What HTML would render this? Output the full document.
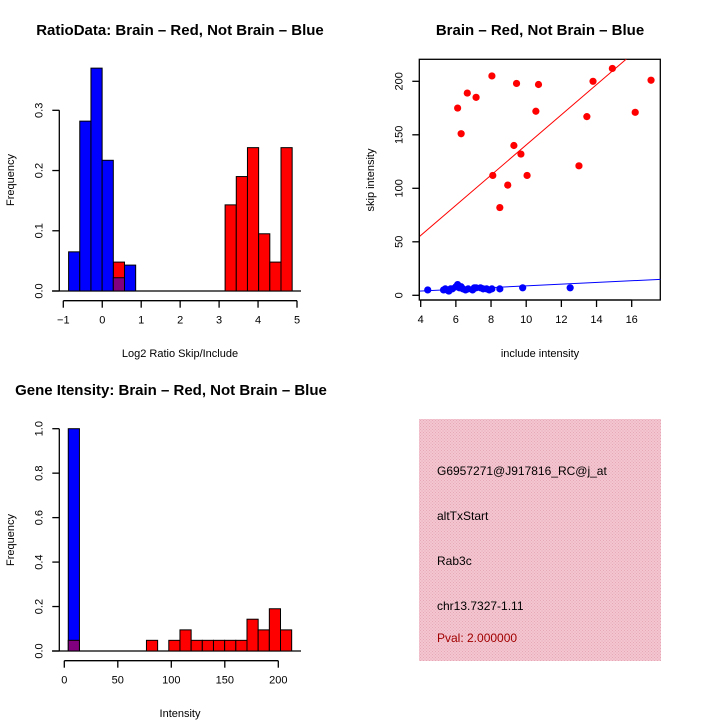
<!DOCTYPE html>
<html><head><meta charset="utf-8"><style>
html,body{margin:0;padding:0;background:#fff;}
svg{display:block;font-family:"Liberation Sans",sans-serif;}
</style></head><body>
<svg id="c" width="720" height="720" viewBox="0 0 720 720" xmlns="http://www.w3.org/2000/svg">
<g id="p1">
<text x="180" y="35" text-anchor="middle" font-size="15" font-weight="bold">RatioData: Brain – Red, Not Brain – Blue</text>
<text x="14" y="180" text-anchor="middle" font-size="11" transform="rotate(-90 14 180)">Frequency</text>
<text x="180" y="357" text-anchor="middle" font-size="11">Log2 Ratio Skip/Include</text>
</g>
<g id="p2">
<text x="540" y="35" text-anchor="middle" font-size="15" font-weight="bold">Brain – Red, Not Brain – Blue</text>
<text x="374" y="180" text-anchor="middle" font-size="11" transform="rotate(-90 374 180)">skip intensity</text>
<text x="540" y="357" text-anchor="middle" font-size="11">include intensity</text>
<rect x="419.3" y="59.3" width="241" height="240.7" fill="none" stroke="#000" stroke-width="1.3"/>
</g>
<g id="p3">
<text x="171" y="395" text-anchor="middle" font-size="15" font-weight="bold">Gene Itensity: Brain – Red, Not Brain – Blue</text>
<text x="14" y="540" text-anchor="middle" font-size="11" transform="rotate(-90 14 540)">Frequency</text>
<text x="180" y="717" text-anchor="middle" font-size="11">Intensity</text>
</g>
<defs><pattern id="hatch" width="3" height="3" patternUnits="userSpaceOnUse"><rect width="3" height="3" fill="#f4c6d0"/><rect width="1" height="1" fill="#e6a8b6"/><rect x="1.5" y="1.5" width="1" height="1" fill="#e6a8b6"/></pattern></defs>
<g>
<rect x="419" y="419" width="242" height="242" fill="url(#hatch)"/>
<g font-size="12">
<text x="437" y="475">G6957271@J917816_RC@j_at</text>
<text x="437" y="520">altTxStart</text>
<text x="437" y="565">Rab3c</text>
<text x="437" y="610">chr13.7327-1.11</text>
<text x="437" y="642" fill="#a00000">Pval: 2.000000</text>
</g>
</g>
</svg>
<script>
// ---- Plot 1 data (log2 ratio histogram) ----
const ratioBinStart = -0.864;
const ratioBinWidth = 0.287;
const ratioBlueFreq = [0.065,0.282,0.37,0.217,0.022,0.043];
const ratioRedBins = [4,14,15,16,17,18,19];
const ratioRedFreq = [0.048,0.143,0.19,0.238,0.095,0.048,0.238];
const ratioXTicks = [-1,0,1,2,3,4,5];
const ratioYTicks = [0,0.1,0.2,0.3];
const ratioYTickLabels = ["0.0","0.1","0.2","0.3"];
// ---- Plot 2 data (scatter) ----
const redInclude = [6.1,6.3,6.65,7.15,8.05,8.1,8.5,8.95,9.3,9.45,9.7,10.05,10.55,10.7,13.0,13.45,13.8,14.9,16.2,17.1];
const redSkip = [175,151,189,185,205,112,82,103,140,198,132,112,172,197,121,167,200,212,171,201];
const blueInclude = [4.4,5.3,5.4,5.5,5.6,5.7,5.8,6.0,6.1,6.2,6.3,6.4,6.55,6.7,6.95,7.05,7.15,7.4,7.55,7.75,7.9,8.05,8.5,9.8,12.5];
const blueSkip = [5,5,6,5,4,6,6,8,10,7,8,6,5,6,5,7,7,7,6,6,5,6,6,7,7];
const redFit = [-0.5,14.1];
const blueFit = [0.8,0.8];
const scatterXTicks = [4,6,8,10,12,14,16];
const scatterYTicks = [0,50,100,150,200];
// ---- Plot 3 data (intensity histogram) ----
const intBinStart = 3.7;
const intBinWidth = 10.44;
const intBlueFreq = [1.0];
const intRedBins = [0,7,9,10,11,12,13,14,15,16,17,18,19];
const intRedFreq = [0.048,0.048,0.048,0.095,0.048,0.048,0.048,0.048,0.048,0.143,0.095,0.19,0.095];
const intXTicks = [0,50,100,150,200];
const intYTicks = [0,0.2,0.4,0.6,0.8,1.0];
const intYTickLabels = ["0.0","0.2","0.4","0.6","0.8","1.0"];

const NS="http://www.w3.org/2000/svg";
function mk(parent,tag,attrs){const e=document.createElementNS(NS,tag);for(const k in attrs)e.setAttribute(k,attrs[k]);parent.appendChild(e);return e;}
function lin(d0,d1,r0,r1){return v=>r0+(v-d0)*(r1-r0)/(d1-d0);}

function drawBar(g,x0,x1,y0,y1,fill,name){
  const r=mk(g,'rect',{x:x0,y:Math.min(y0,y1),width:x1-x0,height:Math.abs(y1-y0),fill:fill,stroke:'#000','stroke-width':1});
  
  
}
function xAxis(g,ticks,labels,sx,y,name){
  const a=mk(g,'line',{x1:sx(ticks[0]),x2:sx(ticks[ticks.length-1]),y1:y,y2:y,stroke:'#000','stroke-width':1.3});
  
  
  ticks.forEach((t,i)=>{
    mk(g,'line',{x1:sx(t),x2:sx(t),y1:y,y2:y+7,stroke:'#000','stroke-width':1.3});
    const tx=mk(g,'text',{x:sx(t),y:y+23,'text-anchor':'middle','font-size':11});
    tx.textContent=labels?labels[i]:String(t).replace('-','−');
    
    
  });
}
function yAxis(g,ticks,labels,sy,x,name){
  const a=mk(g,'line',{x1:x,x2:x,y1:sy(ticks[0]),y2:sy(ticks[ticks.length-1]),stroke:'#000','stroke-width':1.3});
  
  
  ticks.forEach((t,i)=>{
    mk(g,'line',{x1:x,x2:x-7,y1:sy(t),y2:sy(t),stroke:'#000','stroke-width':1.3});
    const tx=mk(g,'text',{x:x-17,y:sy(t),'text-anchor':'middle','font-size':11,transform:`rotate(-90 ${x-17} ${sy(t)})`});
    tx.textContent=labels?labels[i]:String(t);
    
    
  });
}

// Plot 1
(function(){
  const g=document.getElementById('p1');
  const sx=lin(-1,5,63.3,297), sy=lin(0,0.3,291,110.3);
  mk(g,'line',{x1:52,x2:301,y1:291,y2:291,stroke:'#000','stroke-width':1.3});
  ratioRedBins.forEach((b,i)=>{const x0=ratioBinStart+b*ratioBinWidth;drawBar(g,sx(x0),sx(x0+ratioBinWidth),sy(0),sy(ratioRedFreq[i]),'#ff0000','ratio-red-bar');});
  ratioBlueFreq.forEach((f,i)=>{const x0=ratioBinStart+i*ratioBinWidth;const purple=ratioRedBins.includes(i);drawBar(g,sx(x0),sx(x0+ratioBinWidth),sy(0),sy(f),purple?'#800080':'#0000ff','ratio-blue-bar');});
  xAxis(g,ratioXTicks,null,sx,300.7,'ratio-x-axis');
  yAxis(g,ratioYTicks,ratioYTickLabels,sy,59.3,'ratio-y-axis');
})();

// Plot 2
(function(){
  const g=document.getElementById('p2');
  const sx=lin(4,16,420.7,631.7), sy=lin(0,200,295.3,81.3);
  const clip=mk(g,'clipPath',{id:'sc'});mk(clip,'rect',{x:419.3,y:59.3,width:241,height:240.7});
  const fits=[[redFit,'#ff0000','red-regression-line'],[blueFit,'#0000ff','blue-regression-line']];
  fits.forEach(([f,c,n])=>{const x0=3.9,x1=17.8;const l=mk(g,'line',{x1:sx(x0),x2:sx(x1),y1:sy(f[0]+f[1]*x0),y2:sy(f[0]+f[1]*x1),stroke:c,'stroke-width':1,'clip-path':'url(#sc)'});
    
    });
  redInclude.forEach((v,i)=>{const p=mk(g,'circle',{cx:sx(v),cy:sy(redSkip[i]),r:3.6,fill:'#ff0000'});
    
    });
  blueInclude.forEach((v,i)=>{const p=mk(g,'circle',{cx:sx(v),cy:sy(blueSkip[i]),r:3.6,fill:'#0000ff'});
    
    });
  xAxis(g,scatterXTicks,null,sx,300,'scatter-x-axis');
  yAxis(g,scatterYTicks,null,sy,419.3,'scatter-y-axis');
})();

// Plot 3
(function(){
  const g=document.getElementById('p3');
  const sx=lin(0,200,64.3,278.3), sy=lin(0,1,651,428.7);
  mk(g,'line',{x1:52,x2:301,y1:651,y2:651,stroke:'#000','stroke-width':1.3});
  intBlueFreq.forEach((f,i)=>{const x0=intBinStart+i*intBinWidth;drawBar(g,sx(x0),sx(x0+intBinWidth),sy(0),sy(f),'#0000ff','intensity-blue-bar');});
  intRedBins.forEach((b,i)=>{const x0=intBinStart+b*intBinWidth;const purple=b<intBlueFreq.length;drawBar(g,sx(x0),sx(x0+intBinWidth),sy(0),sy(intRedFreq[i]),purple?'#800080':'#ff0000','intensity-red-bar');});
  xAxis(g,intXTicks,null,sx,660.7,'intensity-x-axis');
  yAxis(g,intYTicks,intYTickLabels,sy,59.3,'intensity-y-axis');
})();
</script>
</body></html>
